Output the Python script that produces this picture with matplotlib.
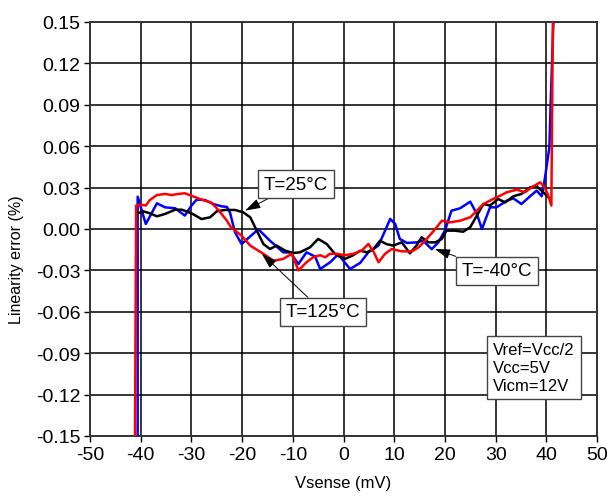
import matplotlib
matplotlib.use("Agg")
import matplotlib.pyplot as plt

plt.rcParams['font.family'] = ['Liberation Sans', 'DejaVu Sans']
plt.rcParams['axes.unicode_minus'] = False

# Linearity error vs. sense voltage at three temperatures
x_25 = [-40.6, -39.5, -38.2, -36.8, -35.2, -33.2, -31.9, -30, -28, -26.3, -25, -23.4, -21.4,
        -19.8, -18.4, -17.1, -15.8, -14.5, -13.2, -11.5, -9.9, -8.6, -6.6, -5, -3.3, -1.7,
        0.3, 1.9, 3.3, 4.6, 5.9, 7.2, 8.5, 9.8, 11.5, 13.1, 14.4, 15.4, 16.8, 18.1, 19.4,
        20.3, 22, 23.6, 25, 26.3, 27.6, 28.9, 30.5, 31.9, 33.5, 35.1, 36.8, 38.1, 39.4, 40.4]
y_25 = [0.0114, 0.0128, 0.0114, 0.0092, 0.0109, 0.014, 0.014, 0.0114, 0.0072, 0.0085, 0.0128,
        0.0138, 0.0138, 0.0121, 0.0085, -0.0012, -0.0109, -0.0145, -0.012, -0.0157, -0.0174,
        -0.0169, -0.0133, -0.0072, -0.0109, -0.018, -0.0217, -0.019, -0.0157, -0.0169, -0.0145,
        -0.0085, -0.011, -0.012, -0.0097, -0.0176, -0.012, -0.006, -0.0097, -0.0097, -0.0072,
        -0.0012, -0.0012, -0.002, 0.0013, 0.0097, 0.0181, 0.017, 0.0217, 0.0193, 0.0237,
        0.0254, 0.0302, 0.031, 0.0266, 0.023]

x_m40 = [-40.6, -40.6, -39.0, -36.8, -35.2, -33.2, -31.3, -30, -29, -27.3, -25.7, -24, -23,
         -22.4, -21.4, -20.1, -16.8, -14.5, -11.9, -10.5, -8.9, -7.3, -5.6, -4.6, -2.6, -1.3,
         -0.7, 1.3, 3.3, 4.9, 6.9, 8.2, 9.2, 10.2, 11.1, 12.5, 14.4, 15.7, 17.4, 18.7, 20,
         21.3, 23, 25, 26.3, 27.3, 28.9, 30.2, 32.2, 33.5, 35.1, 36.8, 38.1, 39.1, 39.7, 40.6,
         40.9, 41.4, 41.6]
y_m40 = [-0.2, 0.0234, 0.0036, 0.0186, 0.0157, 0.015, 0.0097, 0.0169, 0.0212, 0.021, 0.0181,
         0.0164, 0.016, 0.012, -0.0024, -0.0109, -0.0002, -0.0085, -0.0169, -0.017, -0.0254,
         -0.0169, -0.02, -0.029, -0.024, -0.0193, -0.02, -0.029, -0.0245, -0.0169, -0.012,
         -0.0012, 0.0073, 0.0036, -0.0072, -0.0101, -0.0097, -0.0085, -0.0146, -0.0097,
         -0.0012, 0.0133, 0.015, 0.0198, 0.0109, 0.0, 0.0157, 0.0157, 0.0205, 0.0222, 0.0181,
         0.0237, 0.0278, 0.0237, 0.0362, 0.059, 0.0954, 0.15, 0.2]

x_125 = [-41.2, -40.9, -40.1, -39, -38.2, -36.8, -35.2, -33.9, -32.6, -31.3, -30, -28.3, -26,
         -24.5, -23, -22.2, -20.1, -18.4, -15.8, -13.8, -11.9, -10.2, -8.9, -7.3, -6, -4.6,
         -3.6, -2.7, -1.3, 0.3, 1.9, 3.6, 4.9, 5.9, 6.9, 8.2, 9.5, 11.5, 13.5, 14.8, 16.1,
         18.1, 19.4, 21, 23, 25, 26.3, 27.6, 29.5, 30.9, 32.2, 34.2, 35.8, 37.1, 38.8, 39.7,
         40.4, 41.0, 41.4]
y_125 = [-0.2, 0.017, 0.0177, 0.017, 0.021, 0.0246, 0.0254, 0.0246, 0.0254, 0.0259, 0.0241,
         0.0217, 0.019, 0.013, 0.006, 0.0013, -0.0049, -0.012, -0.018, -0.023, -0.0217,
         -0.018, -0.03, -0.0241, -0.0205, -0.019, -0.0205, -0.018, -0.018, -0.019, -0.018,
         -0.0157, -0.0109, -0.0162, -0.0241, -0.018, -0.0145, -0.0162, -0.0162, -0.0133,
         -0.0085, 0.0, 0.006, 0.0048, 0.006, 0.0085, 0.0133, 0.0181, 0.0217, 0.0241, 0.0266,
         0.0285, 0.0266, 0.0302, 0.0338, 0.03, 0.0241, 0.017, 0.2]

x_ticks = [-50, -40, -30, -20, -10, 0, 10, 20, 30, 40, 50]
y_ticks = [-0.15, -0.12, -0.09, -0.06, -0.03, 0.00, 0.03, 0.06, 0.09, 0.12, 0.15]
conditions = "Vref=Vcc/2\nVcc=5V\nVicm=12V"

fig = plt.figure(figsize=(6.09, 5.02), dpi=100)
ax = fig.add_axes([0.1478, 0.1295, 0.8325, 0.8247])

ax.plot(x_m40, y_m40, color='#0000FF', lw=1.8, zorder=3)
ax.plot(x_25, y_25, color='black', lw=1.8, zorder=3)
ax.plot(x_125, y_125, color='#FF0000', lw=1.8, zorder=4)

ax.set_xlim(-50, 50)
ax.set_ylim(-0.15, 0.15)
ax.set_xticks(x_ticks)
ax.set_yticks(y_ticks)
ax.set_yticklabels([f"{v:.2f}" for v in y_ticks])
ax.grid(True, color='black', lw=1.1)
ax.set_axisbelow(True)
ax.tick_params(direction='out', length=4, width=1, labelsize=14, pad=3)
for s in ax.spines.values():
    s.set_linewidth(1.4)
    s.set_color('#333333')

ax.set_xlabel("Vsense (mV)", fontsize=12, labelpad=9)
ax.set_ylabel("Linearity error (%)", fontsize=11.5)
ax.yaxis.set_label_coords(-0.13, 0.428)

box = dict(boxstyle='square,pad=0.3', fc='white', ec='#444444', lw=1)
arrow = dict(arrowstyle='-|>,head_length=0.7,head_width=0.22', color='black', lw=0.7,
             shrinkA=0, shrinkB=0)

ax.annotate("T=25°C", xy=(-19.4, 0.0133), xytext=(-9.4, 0.0326), fontsize=13.5,
            ha='center', va='center', bbox=box, arrowprops=arrow, zorder=6)
ax.annotate("T=125°C", xy=(-16.1, -0.018), xytext=(-4.0, -0.0601), fontsize=13.5,
            ha='center', va='center', bbox=box, arrowprops=arrow, zorder=6)
ax.annotate("T=-40°C", xy=(18.0, -0.0145), xytext=(30.3, -0.0304), fontsize=13.5,
            ha='center', va='center', bbox=box, arrowprops=arrow, zorder=6)

ax.text(29.5, -0.1005, conditions, fontsize=12, ha='left', va='center', linespacing=1.25,
        bbox=dict(boxstyle='square,pad=0.35', fc='white', ec='#444444', lw=1), zorder=6)

fig.savefig("out.png", dpi=100)
